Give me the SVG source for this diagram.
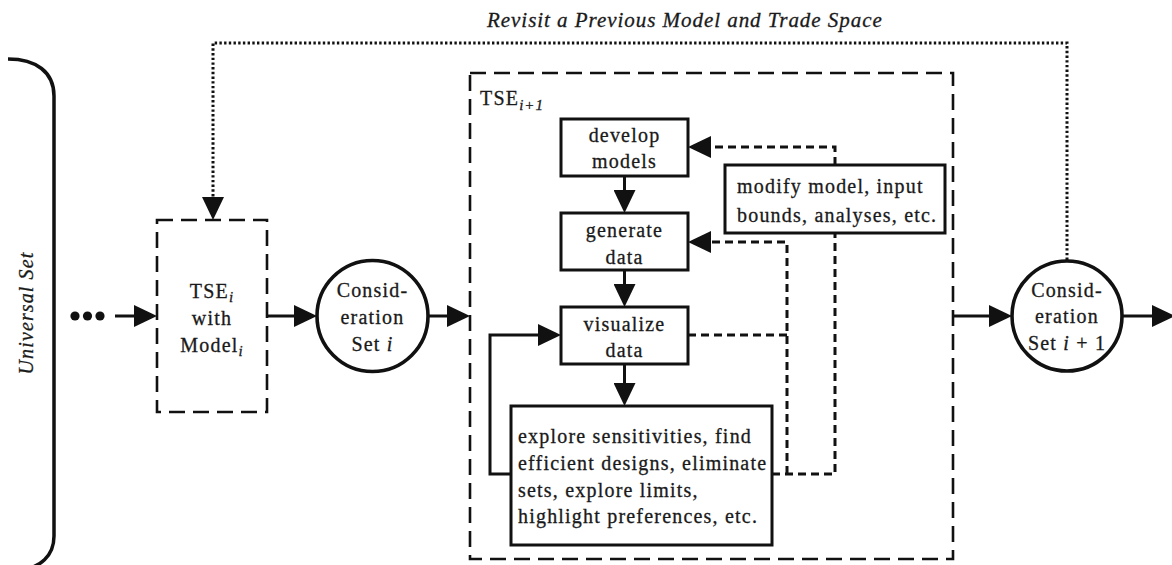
<svg xmlns="http://www.w3.org/2000/svg" width="1172" height="565" viewBox="0 0 1172 565">
<style>
text{font-family:'Liberation Serif','DejaVu Serif',serif;font-size:20px;fill:#1a1a1a;stroke:#1a1a1a;stroke-width:0.3px;letter-spacing:1.2px}
.c{text-anchor:middle}
.it{font-style:italic}
.ttl{font-size:21px}
.sub{font-size:15px;font-style:italic;letter-spacing:1px}
.box{fill:#fff;stroke:#111;stroke-width:3}
.dbox{fill:none;stroke:#111;stroke-width:2.6;stroke-dasharray:16 8}
.circ{fill:#fff;stroke:#111;stroke-width:3.6}
.solid{fill:none;stroke:#111;stroke-width:3}
.dash{fill:none;stroke:#111;stroke-width:3;stroke-dasharray:8 5}
.dot{fill:none;stroke:#111;stroke-width:3;stroke-dasharray:2.4 2.3}
</style>
<defs>
<marker id="ah" markerUnits="userSpaceOnUse" viewBox="0 0 23 22" markerWidth="23" markerHeight="22" refX="15" refY="11" orient="auto">
<path d="M0,0 L23,11 L0,22 Z" fill="#111"/>
</marker>
</defs>

<g id="title">
<text class="it ttl" x="487" y="27" textLength="396" lengthAdjust="spacing">Revisit a Previous Model and Trade Space</text>
</g>

<g id="universal-set">
<path d="M8,59 C36,59 54,72 54,96 V536 C54,556 40,568 20,570" fill="none" stroke="#111" stroke-width="3.5"/>
<text class="it c" transform="translate(33,313) rotate(-90)" textLength="123" lengthAdjust="spacing">Universal Set</text>
</g>

<g id="ellipsis">
<circle cx="75" cy="316" r="4.6" fill="#111"/>
<circle cx="87.5" cy="316" r="4.6" fill="#111"/>
<circle cx="100" cy="316" r="4.6" fill="#111"/>
</g>

<g id="tse-i">
<rect class="dbox" x="157" y="220" width="110" height="192"/>
<text class="c" x="212" y="298">TSE<tspan class="sub" dy="4">i</tspan></text>
<text class="c" x="212" y="325">with</text>
<text class="c" x="212" y="352">Model<tspan class="sub" dy="4">i</tspan></text>
</g>

<g id="consideration-i">
<circle class="circ" cx="372.5" cy="316" r="55.5"/>
<text class="c" x="372.5" y="297">Consid-</text>
<text class="c" x="372.5" y="324">eration</text>
<text class="c" x="372.5" y="351">Set <tspan class="it">i</tspan></text>
</g>

<g id="tse-i1">
<rect class="dbox" x="470" y="73" width="483" height="486"/>
<text x="480" y="105">TSE<tspan class="sub" dy="5">i+1</tspan></text>
</g>

<g id="develop">
<rect class="box" x="561" y="119" width="127" height="57"/>
<text class="c" x="624.5" y="142">develop</text>
<text class="c" x="624.5" y="168">models</text>
</g>

<g id="generate">
<rect class="box" x="561" y="213" width="127" height="57"/>
<text class="c" x="624.5" y="237">generate</text>
<text class="c" x="624.5" y="264">data</text>
</g>

<g id="visualize">
<rect class="box" x="561" y="307" width="127" height="57"/>
<text class="c" x="624.5" y="331">visualize</text>
<text class="c" x="624.5" y="357">data</text>
</g>

<g id="modify">
<rect class="box" x="725" y="165" width="220" height="68"/>
<text x="737" y="193">modify model, input</text>
<text x="737" y="222">bounds, analyses, etc.</text>
</g>

<g id="explore">
<rect class="box" x="511" y="406" width="261" height="139"/>
<text x="518" y="443">explore sensitivities, find</text>
<text x="518" y="470">efficient designs, eliminate</text>
<text x="518" y="497">sets, explore limits,</text>
<text x="518" y="523">highlight preferences, etc.</text>
</g>

<g id="consideration-i1">
<circle class="circ" cx="1067" cy="316" r="55"/>
<text class="c" x="1067" y="297">Consid-</text>
<text class="c" x="1067" y="323">eration</text>
<text class="c" x="1067" y="350">Set <tspan class="it">i</tspan> + 1</text>
</g>

<g id="connectors">
<path class="solid" d="M115,316 H149" marker-end="url(#ah)"/>
<path class="solid" d="M267,316 H309" marker-end="url(#ah)"/>
<path class="solid" d="M428,316 H462" marker-end="url(#ah)"/>
<path class="solid" d="M953,316 H1004" marker-end="url(#ah)"/>
<path class="solid" d="M1122,316 H1167" marker-end="url(#ah)"/>
<path class="dot" d="M1067,260 V43 H213 V212" marker-end="url(#ah)"/>
<path class="solid" d="M624.5,176 V205" marker-end="url(#ah)"/>
<path class="solid" d="M624.5,270 V299" marker-end="url(#ah)"/>
<path class="solid" d="M624.5,364 V398" marker-end="url(#ah)"/>
<path class="solid" d="M511,474 H490 V335 H553" marker-end="url(#ah)"/>
<path class="dash" d="M835,165 V147 H696" marker-end="url(#ah)"/>
<path class="dash" d="M772,474 H835 V233"/>
<path class="dash" d="M787,474 V242 H696" marker-end="url(#ah)"/>
<path class="dash" d="M688,335 H787"/>
</g>
</svg>
